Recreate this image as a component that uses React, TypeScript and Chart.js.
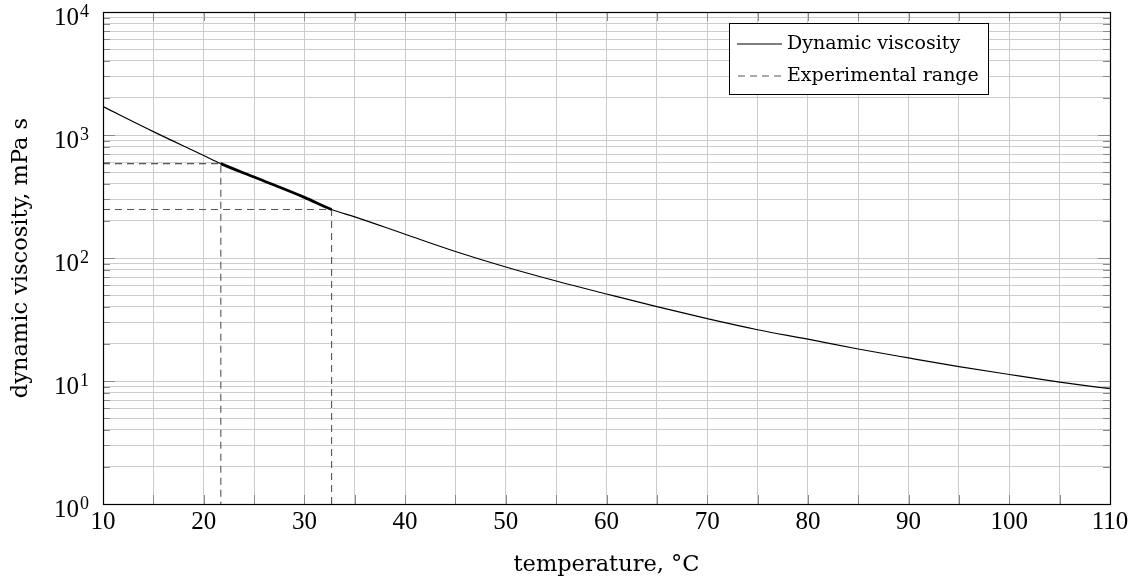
import React, { useEffect, useRef } from 'react';
import { Chart, registerables } from 'chart.js';

Chart.register(...registerables);

// Curve: dynamic viscosity (mPa s) vs temperature (°C)
const temperatures = [10, 15, 20, 21.7, 25, 30, 32.7, 35, 40, 45, 50, 55, 60, 65, 70, 75, 80, 85, 90, 95, 100, 105, 110];
const viscosity = [1700, 1065, 682, 585, 455, 311, 248, 216, 156, 113, 84.5, 65, 51, 40.2, 32.1, 26.1, 21.9, 18.2, 15.4, 13.1, 11.3, 9.8, 8.65];

// Experimental range (bounds)
const experimentalTemps = [21.7, 32.7];
const experimentalVisc = [585, 248];

// Axis ticks
const xMin = 10;
const xMax = 110;
const xTickStep = 5;
const xLabelStep = 10;
const yTickValues = [1, 10, 100, 1000, 10000];
const yTickBases = ['10', '10', '10', '10', '10'];
const yTickExponents = ['0', '1', '2', '3', '4'];

const seriesLabels = ['Dynamic viscosity', 'Experimental range'];
const xTitle = 'temperature, °C';
const yTitle = 'dynamic viscosity, mPa s';

const SERIF = "'DejaVu Serif', serif";
const NUM_SERIF = "'Liberation Serif', serif";

const framePlugin = {
  id: 'frame',
  beforeDatasetsDraw(chart: any) {
    const { ctx, chartArea: a, scales } = chart;
    ctx.save();
    ctx.strokeStyle = '#8a8a8a';
    ctx.lineWidth = 1;
    const ys = scales.y;
    ys.ticks.forEach((t: any) => {
      const p = Math.round(ys.getPixelForValue(t.value)) + 0.5;
      const major = yTickValues.some((v) => Math.abs(v - t.value) < 1e-9);
      const len = major ? 12 : 7;
      ctx.beginPath();
      ctx.moveTo(a.left, p);
      ctx.lineTo(a.left + len, p);
      ctx.moveTo(a.right, p);
      ctx.lineTo(a.right - len, p);
      ctx.stroke();
    });
    const xs = scales.x;
    xs.ticks.forEach((t: any) => {
      const p = Math.round(xs.getPixelForValue(t.value)) + 0.5;
      ctx.beginPath();
      ctx.moveTo(p, a.bottom);
      ctx.lineTo(p, a.bottom - 9);
      ctx.moveTo(p, a.top);
      ctx.lineTo(p, a.top + 9);
      ctx.stroke();
    });
    ctx.restore();
  },
  afterDatasetsDraw(chart: any) {
    const { ctx, chartArea: a, scales } = chart;
    ctx.save();
    ctx.strokeStyle = '#000';
    ctx.lineWidth = 1.2;
    ctx.strokeRect(Math.round(a.left) + 0.5, Math.round(a.top) + 0.5, Math.round(a.right - a.left), Math.round(a.bottom - a.top));

    // y tick labels as 10^n with raised exponent
    const ys = scales.y;
    ctx.fillStyle = '#000';
    yTickValues.forEach((v, i) => {
      const p = ys.getPixelForValue(v);
      const right = a.left - 24;
      ctx.font = `25px ${NUM_SERIF}`;
      ctx.textAlign = 'right';
      ctx.textBaseline = 'alphabetic';
      ctx.fillText(yTickBases[i], right, p + 13);
      ctx.font = `18px ${NUM_SERIF}`;
      ctx.textAlign = 'left';
      ctx.fillText(yTickExponents[i], right + 1, p + 5);
    });

    // legend box inside plot, upper right
    const bx = a.right - 381;
    const by = a.top + 11;
    const bw = 259;
    const bh = 71;
    ctx.fillStyle = '#fff';
    ctx.fillRect(bx, by, bw, bh);
    ctx.lineWidth = 1;
    ctx.strokeStyle = '#000';
    ctx.strokeRect(bx + 0.5, by + 0.5, bw, bh);

    const row1 = by + 21;
    const row2 = by + 53;
    ctx.lineWidth = 1.2;
    ctx.beginPath();
    ctx.moveTo(bx + 8, row1);
    ctx.lineTo(bx + 53, row1);
    ctx.stroke();
    ctx.strokeStyle = '#555';
    ctx.setLineDash([7, 5]);
    ctx.beginPath();
    ctx.moveTo(bx + 9, row2);
    ctx.lineTo(bx + 54, row2);
    ctx.stroke();
    ctx.setLineDash([]);

    ctx.fillStyle = '#000';
    ctx.font = `19px ${SERIF}`;
    ctx.textBaseline = 'middle';
    ctx.textAlign = 'left';
    ctx.fillText(seriesLabels[0], bx + 58, row1);
    ctx.fillText(seriesLabels[1], bx + 58, row2);
    ctx.restore();
  },
};

export default function App() {
  const canvasRef = useRef<HTMLCanvasElement | null>(null);

  useEffect(() => {
    document.body.style.margin = '0';
    const canvas = canvasRef.current;
    if (!canvas) return;

    const curve = temperatures.map((t, i) => ({ x: t, y: viscosity[i] }));
    const [tLow, tHigh] = experimentalTemps;
    const [vHigh, vLow] = experimentalVisc;
    const dashA = [
      { x: xMin, y: vHigh },
      { x: tLow, y: vHigh },
      { x: tLow, y: yTickValues[0] },
    ];
    const dashB = [
      { x: xMin, y: vLow },
      { x: tHigh, y: vLow },
      { x: tHigh, y: yTickValues[0] },
    ];

    const chart = new Chart(canvas, {
      type: 'line',
      data: {
        datasets: [
          {
            label: seriesLabels[0],
            data: curve,
            borderColor: '#000',
            borderWidth: 1.2,
            pointRadius: 0,
            cubicInterpolationMode: 'monotone',
            order: 0,
            segment: {
              borderWidth: (c: any) =>
                c.p0.parsed.x >= tLow - 1e-6 && c.p1.parsed.x <= tHigh + 1e-6 ? 2.8 : 1.2,
            },
          } as any,
          {
            label: seriesLabels[1],
            data: dashA,
            borderColor: '#555',
            borderWidth: 1.1,
            borderDash: [7, 5],
            pointRadius: 0,
            tension: 0,
            order: 1,
          },
          {
            label: seriesLabels[1] + ' ',
            data: dashB,
            borderColor: '#555',
            borderWidth: 1.1,
            borderDash: [7, 5],
            pointRadius: 0,
            tension: 0,
            order: 1,
          },
        ],
      },
      options: {
        animation: false,
        responsive: false,
        devicePixelRatio: 1,
        layout: { padding: { top: 12, right: 26, bottom: 0, left: 0 } },
        plugins: {
          legend: { display: false },
          tooltip: { enabled: false },
        },
        scales: {
          x: {
            type: 'linear',
            min: xMin,
            max: xMax,
            grid: { color: '#cccccc', lineWidth: 1, drawTicks: false },
            border: { display: false },
            ticks: {
              stepSize: xTickStep,
              autoSkip: false,
              maxRotation: 0,
              padding: 3,
              color: '#000',
              font: { family: NUM_SERIF, size: 25 },
              callback: (v: any) => (Math.abs(v % xLabelStep) < 1e-9 ? String(v) : ''),
            },
            title: {
              display: true,
              text: xTitle,
              color: '#000',
              font: { family: SERIF, size: 22.5 },
              padding: { top: 0, bottom: 9 },
            },
            afterFit: (s: any) => {
              s.height = 84;
              s.paddingLeft = 0;
              s.paddingRight = 0;
            },
          },
          y: {
            type: 'logarithmic',
            min: yTickValues[0],
            max: yTickValues[yTickValues.length - 1],
            grid: { color: '#cccccc', lineWidth: 1, drawTicks: false },
            border: { display: false },
            afterBuildTicks: (s: any) => {
              const ticks: any[] = [];
              for (let e = 0; e < yTickValues.length - 1; e++) {
                for (let m = 1; m <= 9; m++) ticks.push({ value: m * yTickValues[e] });
              }
              ticks.push({ value: yTickValues[yTickValues.length - 1] });
              s.ticks = ticks;
            },
            ticks: {
              display: false,
              autoSkip: false,
            },
            title: {
              display: true,
              text: yTitle,
              color: '#000',
              font: { family: SERIF, size: 22.5 },
              padding: { top: 8, bottom: 0 },
            },
            afterFit: (s: any) => {
              s.width = 103;
              s.paddingTop = 0;
              s.paddingBottom = 0;
            },
          },
        },
      },
      plugins: [framePlugin],
    } as any);

    return () => chart.destroy();
  }, []);

  return (
    <div style={{ width: 1136, height: 588 }}>
      <canvas ref={canvasRef} width={1136} height={588} />
    </div>
  );
}
